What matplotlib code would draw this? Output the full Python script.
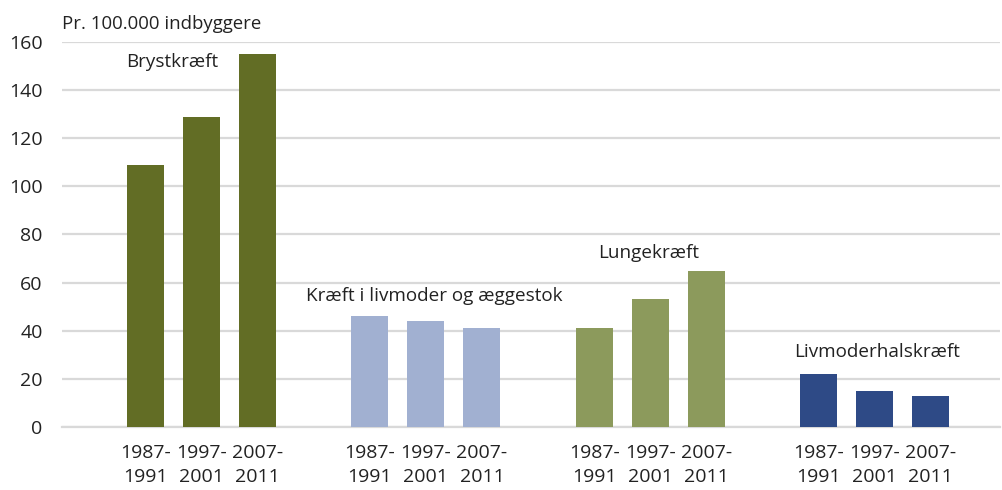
import numpy as np
import matplotlib.pyplot as plt

plt.rcParams['font.family'] = ['Open Sans', 'DejaVu Sans']

groups = ['Brystkræft', 'Kræft i livmoder og æggestok', 'Lungekræft', 'Livmoderhalskræft']
periods = ['1987-\n1991', '1997-\n2001', '2007-\n2011']
brystkraeft = [109, 129, 155]
livmoder_aeggestok = [46, 44, 41]
lungekraeft = [41, 53, 65]
livmoderhals = [22, 15, 13]
values = [brystkraeft, livmoder_aeggestok, lungekraeft, livmoderhals]
colors = ['#626d25', '#a1b0d1', '#8c9a5c', '#2e4a86']

# label spots (x in bar units, y in data units)
label_pos = [(0.47, 151.5), (5.15, 54.5), (8.97, 72.5), (13.04, 31)]

fig = plt.figure(figsize=(10.03, 4.9), dpi=100)
ax = fig.add_axes([0.0618, 0.1286, 0.9352, 0.7857])

xs = []
xlabels = []
for g in range(len(groups)):
    x = np.arange(3) + 4 * g
    ax.bar(x, values[g], width=0.66, color=colors[g], zorder=3)
    xs.extend(x)
    xlabels.extend(periods)
    ax.text(label_pos[g][0], label_pos[g][1], groups[g], ha='center', va='center',
            fontsize=13.6, color='#222222', zorder=4)

ax.set_xticks(xs)
ax.set_xticklabels(xlabels, fontsize=14, color='#222222', linespacing=1.45)
ax.set_xlim(-1.49, 15.24)
ax.set_ylim(0, 160)
ax.set_yticks(np.arange(0, 161, 20))
ax.tick_params(axis='y', length=0, pad=14, labelsize=14, labelcolor='#222222')
ax.tick_params(axis='x', length=0, pad=12)
ax.grid(axis='y', color='#d9d9d9', linewidth=1.6, zorder=0)
for s in ['top', 'right', 'left']:
    ax.spines[s].set_visible(False)
ax.spines['bottom'].set_color('#d9d9d9')
ax.spines['bottom'].set_linewidth(1.6)

fig.text(0.0618, 0.952, 'Pr. 100.000 indbyggere', fontsize=13.4, color='#222222', va='center')

fig.savefig('out.png', dpi=100)
